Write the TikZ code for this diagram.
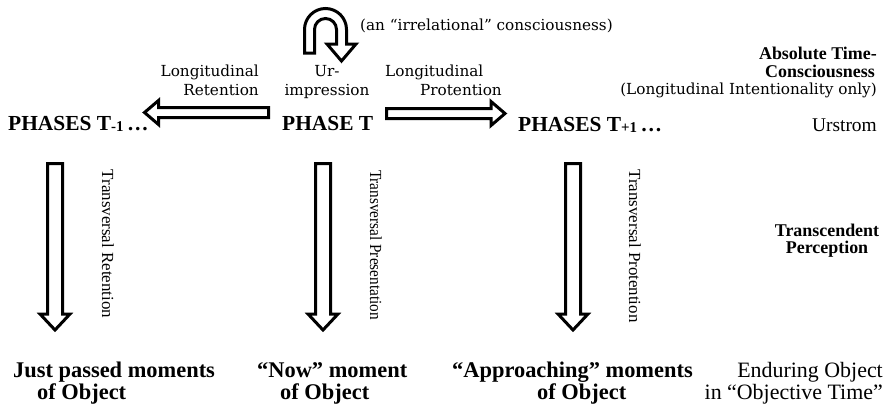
\documentclass[tikz,border=0pt]{standalone}
\usepackage{fontspec}
\setmainfont{Liberation Serif}
\newfontfamily\djs{DejaVu Serif}
\usetikzlibrary{calc}
\tikzset{
  blk/.style={draw=black, line width=3bp, fill=white, line join=miter},
  wide/.style={font=\djs\fontsize{15.3}{18}\selectfont, inner sep=0},
  phase/.style={font=\bfseries\fontsize{21.5}{24}\selectfont, inner sep=0},
  objb/.style={font=\bfseries\fontsize{22.5}{26}\selectfont, inner sep=0},
  sidebold/.style={font=\bfseries\fontsize{18}{20}\selectfont, inner sep=0},
  objreg/.style={font=\fontsize{22}{24}\selectfont, inner sep=0},
  urst/.style={font=\fontsize{19.5}{22}\selectfont, inner sep=0},
  trans/.style={font=\fontsize{17}{20}\selectfont, inner sep=0, rotate=-90}
}
% vertical block arrow: top coordinate, tip coordinate
\newcommand\vblk[2]{%
  \draw[blk] ($(#1)+(-7.5,0)$) -- ($(#1)+(7.5,0)$) -- ($(#2)+(7.5,-16)$)
    -- ($(#2)+(15,-16)$) -- (#2) -- ($(#2)+(-15,-16)$) -- ($(#2)+(-7.5,-16)$) -- cycle;}
% horizontal block arrow: tail, tip, direction (1 = right, -1 = left)
\newcommand\hblk[3]{%
  \draw[blk] ($(#1)+(0,-5)$) -- ($(#2)+(-#3*14,-5)$) -- ($(#2)+(-#3*14,-12)$)
    -- (#2) -- ($(#2)+(-#3*14,12)$) -- ($(#2)+(-#3*14,5)$) -- ($(#1)+(0,5)$) -- cycle;}
\begin{document}
\begin{tikzpicture}[x=1bp,y=-1bp]
\useasboundingbox[fill=white] (0,0) rectangle (889,407);

% top texts
\node[wide, anchor=base west] (irr) at (360,30) {(an “irrelational” consciousness)};
\node[wide, anchor=base east] (lr1) at (259,76) {Longitudinal};
\node[wide, anchor=base east] (lr2) at (259,95) {Retention};
\node[wide, anchor=base] (ur1) at (327,76) {Ur-};
\node[wide, anchor=base] (ur2) at (327,95) {impression};
\node[wide, anchor=base west] (lp1) at (385,76) {Longitudinal};
\node[wide, anchor=base east] (lp2) at (502,95) {Protention};
\node[sidebold, anchor=base east] (abs1) at (877,59) {Absolute Time-};
\node[sidebold, anchor=base east] (abs2) at (875,77) {Consciousness};
\node[wide, anchor=base east] (abs3) at (877,94) {(Longitudinal Intentionality only)};

% phases
\node[phase, anchor=base west] (pm) at (8,130) {PHASES T\raisebox{-1.5bp}{\fontsize{15}{15}\selectfont -1}\,…};
\node[phase, anchor=base west] (pt) at (282,130) {PHASE T};
\node[phase, anchor=base west] (pp) at (518,131) {PHASES T\raisebox{-1.5bp}{\fontsize{15}{15}\selectfont +1}\,…};
\node[urst, anchor=base east] (urs) at (877,131) {Urstrom};

% side label
\node[sidebold, anchor=base] (tr1) at (827,236) {Transcendent};
\node[sidebold, anchor=base] (tr2) at (827,253) {Perception};

% bottom labels
\node[objb, anchor=base west] (jp1) at (13,377) {Just passed moments};
\node[objb, anchor=base west] (jp2) at (37,399) {of Object};
\node[objb, anchor=base west] (nw1) at (257,377) {“Now” moment};
\node[objb, anchor=base west] (nw2) at (280,399) {of Object};
\node[objb, anchor=base west] (ap1) at (452,377) {“Approaching” moments};
\node[objb, anchor=base west] (ap2) at (537,399) {of Object};
\node[objreg, anchor=base east] (en1) at (883,377) {Enduring Object};
\node[objreg, anchor=base east] (en2) at (883,399) {in “Objective Time”};

% rotated labels
\node[trans] (tvr) at (108,244) {Transversal Retention};
\node[trans] (tvp) at (376,245) {\scalebox{0.9}[1]{Transversal Presentation}};
\node[trans] (tvq) at (635,246) {Transversal Protention};

% U-turn arrow
\draw[blk] (304.5,53) -- (304.5,29.5) arc (180:360:21) -- (346.5,44) -- (356,44)
  -- (341.5,61) -- (327,44) -- (336.5,44) -- (336.5,29.5) arc (0:-180:11)
  -- (314.5,53) -- cycle;

% horizontal arrows
\coordinate (hlTail) at (268.5,112.5);
\coordinate (hlTip) at (144.5,112.5);
\coordinate (hrTail) at (386.5,113.5);
\coordinate (hrTip) at (505,113.5);
\hblk{hlTail}{hlTip}{-1}
\hblk{hrTail}{hrTip}{1}

% vertical arrows
\coordinate (v1top) at (55,163.5);
\coordinate (v1tip) at (55,330);
\coordinate (v2top) at (323,163.5);
\coordinate (v2tip) at (323,330);
\coordinate (v3top) at (573,163.5);
\coordinate (v3tip) at (573,330);
\vblk{v1top}{v1tip}
\vblk{v2top}{v2tip}
\vblk{v3top}{v3tip}
\end{tikzpicture}
\end{document}
